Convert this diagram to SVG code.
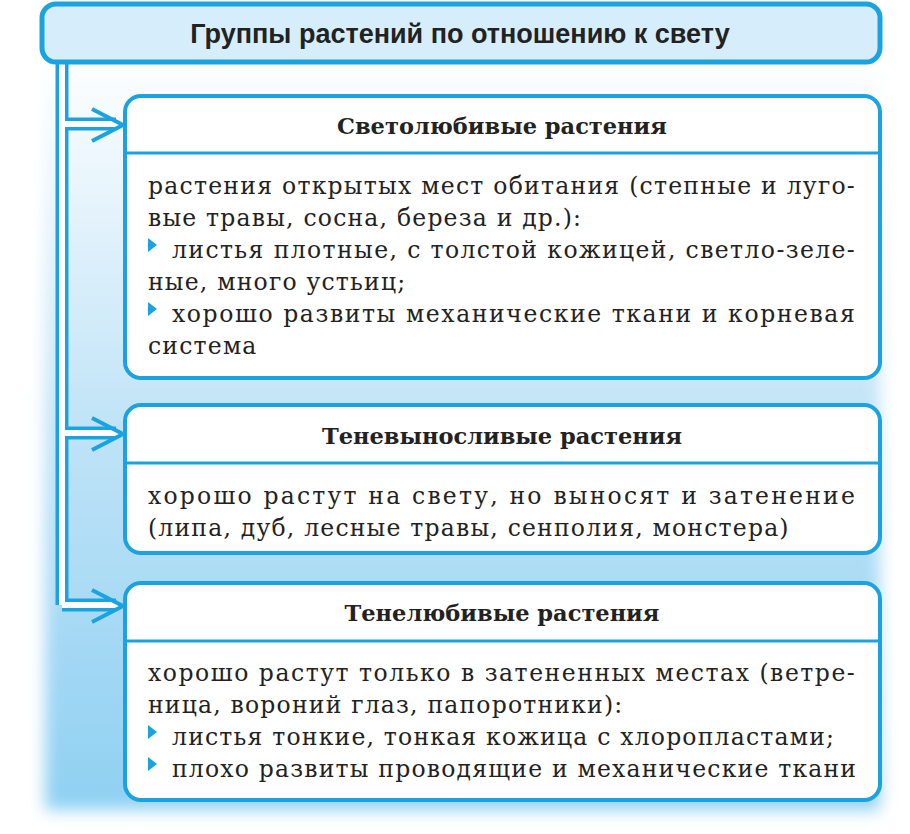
<svg xmlns="http://www.w3.org/2000/svg" width="910" height="834" viewBox="0 0 910 834">
<defs>
<linearGradient id="bg" x1="0" y1="0" x2="0" y2="1"><stop offset="0" stop-color="#ffffff"/><stop offset="0.5" stop-color="#bfe3f7"/><stop offset="1" stop-color="#8fd0f2"/></linearGradient>
<filter id="bl" x="-10%" y="-10%" width="120%" height="120%"><feGaussianBlur stdDeviation="8"/></filter>
<style>
.box{fill:#fff;stroke:#1aa3e0;stroke-width:4}
.div{stroke:#1aa3e0;stroke-width:3}
.t{font-family:"DejaVu Serif",serif;font-size:23.5px;letter-spacing:1.2px;fill:#222}
.h{font-family:"DejaVu Serif",serif;font-size:22.5px;font-weight:bold;fill:#222;text-anchor:middle}
.bul{fill:#1aa3e0}
.co{fill:none;stroke:#1aa3e0;stroke-width:13}
.ci{fill:none;stroke:#fff;stroke-width:6}
</style>
</defs>
<rect x="45" y="50" width="835" height="760" fill="url(#bg)" filter="url(#bl)"/>
<g id="connectors">
<path class="co" d="M62 60 V605 M62 124 H116 M62 433 H116 M62 605 H116"/>
<path class="ci" d="M62 55 V605 M62 124 H118 M62 433 H118 M62 605 H118"/>
<path d="M92 109 L123 125 L92 141" fill="none" stroke="#1aa3e0" stroke-width="4"/>
<path d="M92 418 L123 434 L92 450" fill="none" stroke="#1aa3e0" stroke-width="4"/>
<path d="M92 590 L123 606 L92 622" fill="none" stroke="#1aa3e0" stroke-width="4"/>
</g>
<g id="header">
<rect x="42" y="4" width="838" height="58" rx="14" fill="#d6eefb" stroke="#1aa3e0" stroke-width="5"/>
<text x="460" y="43" text-anchor="middle" font-family="Liberation Sans,sans-serif" font-size="27" font-weight="bold" fill="#222">Группы растений по отношению к свету</text>
</g>
<g id="box1">
<rect class="box" x="125" y="96" width="755" height="282" rx="16"/>
<line class="div" x1="125" y1="153" x2="880" y2="153"/>
<text class="h" x="502" y="134">Светолюбивые растения</text>
<text class="t" x="148" y="194" textLength="708" lengthAdjust="spacing">растения открытых мест обитания (степные и луго-</text>
<text class="t" x="148" y="226">вые травы, сосна, береза и др.):</text>
<polygon class="bul" points="148,238 157,245 148,252"/>
<text class="t" x="172" y="258" textLength="684" lengthAdjust="spacing">листья плотные, с толстой кожицей, светло-зеле-</text>
<text class="t" x="148" y="290">ные, много устьиц;</text>
<polygon class="bul" points="148,302 157,309 148,316"/>
<text class="t" x="172" y="322" textLength="684" lengthAdjust="spacing">хорошо развиты механические ткани и корневая</text>
<text class="t" x="148" y="354">система</text>
</g>
<g id="box2">
<rect class="box" x="125" y="405" width="755" height="148" rx="16"/>
<line class="div" x1="125" y1="463" x2="880" y2="463"/>
<text class="h" x="502" y="444">Теневыносливые растения</text>
<text class="t" x="148" y="504" textLength="708" lengthAdjust="spacing">хорошо растут на свету, но выносят и затенение</text>
<text class="t" x="148" y="536">(липа, дуб, лесные травы, сенполия, монстера)</text>
</g>
<g id="box3">
<rect class="box" x="125" y="583" width="755" height="217" rx="16"/>
<line class="div" x1="125" y1="641" x2="880" y2="641"/>
<text class="h" x="502" y="621">Тенелюбивые растения</text>
<text class="t" x="148" y="681" textLength="708" lengthAdjust="spacing">хорошо растут только в затененных местах (ветре-</text>
<text class="t" x="148" y="713">ница, вороний глаз, папоротники):</text>
<polygon class="bul" points="148,725 157,732 148,739"/>
<text class="t" x="172" y="745">листья тонкие, тонкая кожица с хлоропластами;</text>
<polygon class="bul" points="148,757 157,764 148,771"/>
<text class="t" x="172" y="777">плохо развиты проводящие и механические ткани</text>
</g>
</svg>
